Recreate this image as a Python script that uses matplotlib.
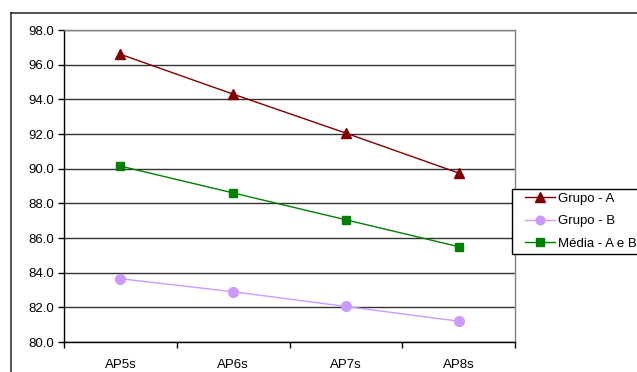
import matplotlib
matplotlib.use("Agg")
import matplotlib.pyplot as plt
from matplotlib.lines import Line2D
from matplotlib.patches import Rectangle

plt.rcParams['font.family'] = ['Liberation Sans', 'DejaVu Sans']

categories = ["AP5s", "AP6s", "AP7s", "AP8s"]
grupo_a = [96.6, 94.3, 92.05, 89.75]
grupo_b = [83.65, 82.9, 82.05, 81.2]
media = [90.15, 88.6, 87.05, 85.5]
labels = ["Grupo - A", "Grupo - B", "Média - A e B"]
yticks = [80.0, 82.0, 84.0, 86.0, 88.0, 90.0, 92.0, 94.0, 96.0, 98.0]

W, H = 637, 372
FS = 9.5
fig = plt.figure(figsize=(W / 100, H / 100), dpi=100)

# outer frame lines (top and left)
fig.add_artist(Line2D([10.5 / W, 1.0], [1 - 12.8 / H, 1 - 12.8 / H],
                      transform=fig.transFigure, color="#222222", lw=1.1))
fig.add_artist(Line2D([10.8 / W, 10.8 / W], [0, 1 - 12.8 / H],
                      transform=fig.transFigure, color="#222222", lw=1.1))

ax = fig.add_axes([64 / W, 1 - 342 / H, (515 - 64) / W, (342 - 30) / H])
x = list(range(len(categories)))

ax.plot(x, grupo_a, color="#800000", lw=1.0, marker="^", ms=7.5,
        markeredgecolor="#800000", markerfacecolor="#800000", label=labels[0], zorder=3)
ax.plot(x, grupo_b, color="#CC99FF", lw=1.0, marker="o", ms=7,
        markeredgecolor="#CC99FF", markerfacecolor="#CC99FF", label=labels[1], zorder=3)
ax.plot(x, media, color="#008000", lw=1.0, marker="s", ms=6.3,
        markeredgecolor="#008000", markerfacecolor="#008000", label=labels[2], zorder=3)

ax.set_xlim(-0.5, 3.5)
ax.set_ylim(80, 98)
ax.set_yticks(yticks)
ax.set_yticklabels([f"{v:.1f}" for v in yticks], fontsize=FS)
ax.set_xticks(x)
ax.set_xticklabels(categories, fontsize=FS)
ax.tick_params(axis="x", which="major", length=0, pad=12)
ax.set_xticks([-0.5, 0.5, 1.5, 2.5, 3.5], minor=True)
ax.tick_params(axis="x", which="minor", length=4, width=1, color="black", direction="out")
ax.tick_params(axis="y", length=4, width=1, color="black", direction="out", pad=3)

ax.yaxis.grid(True, color="#333333", lw=1.0)
ax.set_axisbelow(True)
for s in ["top", "right"]:
    ax.spines[s].set_color("#808080")
    ax.spines[s].set_linewidth(1.0)
for s in ["left", "bottom"]:
    ax.spines[s].set_color("black")
    ax.spines[s].set_linewidth(1.0)

# legend box
fig.add_artist(Rectangle((512 / W, 1 - 254 / H), (650 - 512) / W, (254 - 188.5) / H,
                         transform=fig.transFigure, facecolor="white",
                         edgecolor="black", lw=1.0, zorder=4))
leg = fig.legend(loc="upper left", bbox_to_anchor=(525 / W, 1 - 192.5 / H),
                 fontsize=FS, frameon=False,
                 handlelength=2.25, handletextpad=0.25, labelspacing=0.78,
                 borderpad=0.0, borderaxespad=0.0, markerscale=0.9)
leg.set_zorder(5)

fig.savefig("out.png", dpi=100)
